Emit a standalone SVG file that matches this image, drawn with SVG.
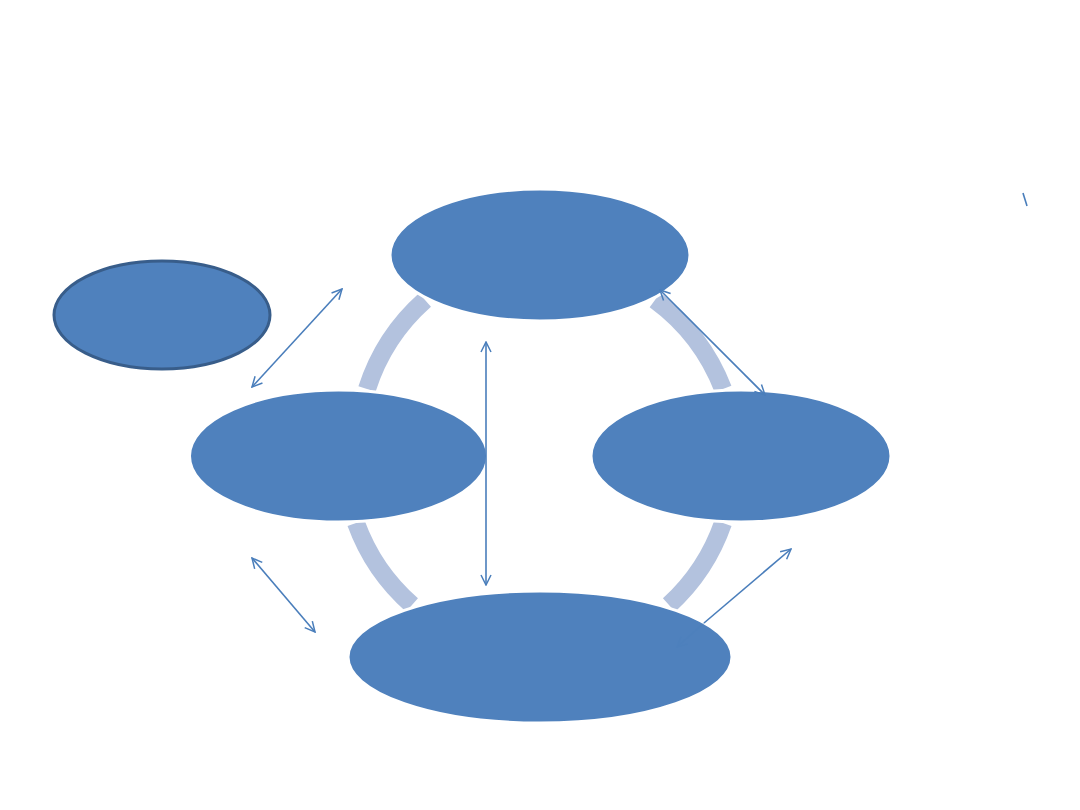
<svg xmlns="http://www.w3.org/2000/svg" width="1080" height="810" viewBox="0 0 1080 810">
<defs>
<marker id="ah" viewBox="0 0 12 12" refX="11" refY="6" markerWidth="12" markerHeight="12" markerUnits="userSpaceOnUse" orient="auto-start-reverse">
<path d="M1,1 L11,6 L1,11" fill="none" stroke="#4a7ebb" stroke-width="1.5"/>
</marker>
</defs>
<style>
.ring{fill:none;stroke:#b3c2de;stroke-width:18;stroke-linecap:butt}
.node{fill:#4f81bd;stroke:#ffffff;stroke-width:3}
.solo{fill:#4f81bd;stroke:#385d8a;stroke-width:3}
.conn{fill:none;stroke:#4a7ebb;stroke-width:1.6}
</style>
<rect width="1080" height="810" fill="#ffffff"/>
<g id="ring">
<path class="ring" d="M425,300 A200,200 0 0 0 367,389"/>
<path class="ring" d="M655,300 A200,200 0 0 1 723,389"/>
<path class="ring" d="M356,523 A200,200 0 0 0 412,605"/>
<path class="ring" d="M723,523 A200,200 0 0 1 669,605"/>
</g>
<g id="n-solo"><ellipse class="solo" cx="162" cy="315" rx="108" ry="54"/></g>
<g id="n-top"><ellipse class="node" cx="540" cy="255" rx="150" ry="66"/></g>
<g id="n-left"><ellipse class="node" cx="338.5" cy="456" rx="149" ry="66"/></g>
<g id="n-right"><ellipse class="node" cx="741" cy="456" rx="150" ry="66"/></g>
<g id="n-bottom"><ellipse class="node" cx="540" cy="657" rx="192" ry="66"/></g>
<g id="connectors">
<line class="conn" x1="252" y1="387" x2="342" y2="289" marker-start="url(#ah)" marker-end="url(#ah)"/>
<line class="conn" x1="486" y1="585" x2="486" y2="342" marker-start="url(#ah)" marker-end="url(#ah)"/>
<line class="conn" x1="660" y1="290" x2="765" y2="395" marker-start="url(#ah)" marker-end="url(#ah)"/>
<line class="conn" x1="252" y1="558" x2="315" y2="632" marker-start="url(#ah)" marker-end="url(#ah)"/>
<g id="c-br">
<line class="conn" x1="704" y1="623" x2="791" y2="549" marker-end="url(#ah)"/>
<line class="conn" x1="677" y1="647" x2="704" y2="623" marker-start="url(#ah)" opacity="0.3"/>
</g>
<line class="conn" x1="1023" y1="193" x2="1027" y2="206" stroke="#4f81bd" stroke-width="2"/>
</g>
</svg>
